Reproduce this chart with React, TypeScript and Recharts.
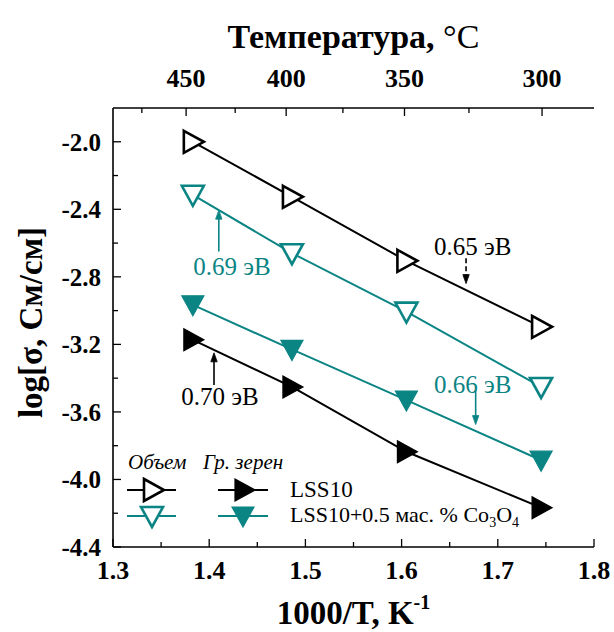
import React from "react";
import { LineChart, Line, XAxis, YAxis, ReferenceLine, ReferenceDot } from "recharts";

// 1000/T for 450, 400, 350, 300 °C
const invT = [1.383, 1.486, 1.605, 1.745];

// log(sigma), bulk and grain-boundary contributions
const lssBulk = [-2.0, -2.326, -2.705, -3.096];
const lssGrain = [-3.173, -3.452, -3.836, -4.167];
const coBulk = [-2.314, -2.66, -3.006, -3.452];
const coGrain = [-2.966, -3.23, -3.53, -3.886];

const xTicks = [1.3, 1.35, 1.4, 1.45, 1.5, 1.55, 1.6, 1.65, 1.7, 1.75, 1.8];
const yTicks = [-4.4, -4.2, -4.0, -3.8, -3.6, -3.4, -3.2, -3.0, -2.8, -2.6, -2.4, -2.2, -2.0];

// top temperature scale
const tempTickPos = [1.33, 1.376, 1.427, 1.48, 1.539, 1.603, 1.67, 1.746];
const tempLabels = ["", "450", "", "400", "", "350", "", "300"];

// activation energy notes: text baseline position, arrow tail and tip
const notes = [
  { text: "0.65 эВ", tx: 1.674, ty: -2.67, ax: 1.667, ay1: -2.69, ay2: -2.84, dashed: true, teal: false },
  { text: "0.69 эВ", tx: 1.4237, ty: -2.788, ax: 1.41, ay1: -2.65, ay2: -2.405, dashed: false, teal: true },
  { text: "0.70 эВ", tx: 1.4112, ty: -3.558, ax: 1.405, ay1: -3.44, ay2: -3.25, dashed: false, teal: false },
  { text: "0.66 эВ", tx: 1.674, ty: -3.487, ax: 1.677, ay1: -3.47, ay2: -3.675, dashed: false, teal: true },
];

const TEAL = "#0b8484";
const FONT = "'Liberation Serif', 'Times New Roman', serif";
const serif = { fontFamily: FONT };

const data = invT.map((x, i) => ({
  x,
  lssBulk: lssBulk[i],
  lssGrain: lssGrain[i],
  coBulk: coBulk[i],
  coGrain: coGrain[i],
}));

function RightTri({ cx, cy, color, filled }: any) {
  const pts = `${cx - 9},${cy - 11} ${cx + 11},${cy} ${cx - 9},${cy + 11}`;
  return <polygon points={pts} fill={filled ? color : "#fff"} stroke={color} strokeWidth={filled ? 1.2 : 2.6} strokeLinejoin="miter" />;
}

function DownTri({ cx, cy, color, filled }: any) {
  const pts = `${cx - 11},${cy - 9} ${cx + 11},${cy - 9} ${cx},${cy + 11}`;
  return <polygon points={pts} fill={filled ? color : "#fff"} stroke={color} strokeWidth={filled ? 1.2 : 2.6} strokeLinejoin="miter" />;
}

function YTick(props: any) {
  const { x, y, payload } = props;
  const v = payload.value;
  const major = Math.abs(Math.round(v * 10)) % 4 === 0;
  return (
    <g>
      <line x1={x} x2={x + (major ? 8 : 5)} y1={y} y2={y} stroke="#000" strokeWidth={1.3} />
      {major && (
        <text x={x - 12} y={y + 9} textAnchor="end" style={serif} fontWeight="bold" fontSize={25} fill="#000">
          {v.toFixed(1)}
        </text>
      )}
    </g>
  );
}

function XTick(props: any) {
  const { x, y, payload } = props;
  const v = payload.value;
  const major = Math.round(v * 100) % 10 === 0;
  return (
    <g>
      <line x1={x} x2={x} y1={y} y2={y - (major ? 8 : 5)} stroke="#000" strokeWidth={1.3} />
      {major && (
        <text x={x} y={y + 32} textAnchor="middle" style={serif} fontWeight="bold" fontSize={26} fill="#000">
          {v.toFixed(1)}
        </text>
      )}
    </g>
  );
}

function TopTick(props: any) {
  const { x, y, index } = props;
  const label = tempLabels[index];
  return (
    <g>
      <line x1={x} x2={x} y1={y} y2={y + (label ? 8 : 5)} stroke="#000" strokeWidth={1.3} />
      {label && (
        <text x={x} y={y - 21} textAnchor="middle" style={serif} fontWeight="bold" fontSize={26} fill="#000">
          {label}
        </text>
      )}
    </g>
  );
}

function Arrow(props: any) {
  const { x1, y1, x2, y2, stroke, dashed } = props;
  const dir = y2 > y1 ? 1 : -1;
  const head = `${x2 - 3.2},${y2 - dir * 9} ${x2 + 3.2},${y2 - dir * 9} ${x2},${y2}`;
  return (
    <g>
      <line x1={x1} y1={y1} x2={x2} y2={y2 - dir * 6} stroke={stroke} strokeWidth={1.6} strokeDasharray={dashed ? "5 3" : undefined} />
      <polygon points={head} fill={stroke} stroke={stroke} strokeWidth={0.8} />
    </g>
  );
}

function Legend() {
  const t = { style: serif, fill: "#000" };
  return (
    <svg width={420} height={80} style={{ position: "absolute", left: 120, top: 450 }}>
      <text x={8} y={19} {...t} fontStyle="italic" fontSize={21}>Объем</text>
      <text x={83} y={19} {...t} fontStyle="italic" fontSize={21}>Гр. зерен</text>
      <line x1={7} x2={56} y1={40} y2={40} stroke="#000" strokeWidth={2} />
      <RightTri cx={33} cy={40} color="#000" filled={false} />
      <line x1={98} x2={148} y1={40} y2={40} stroke="#000" strokeWidth={2} />
      <RightTri cx={124} cy={40} color="#000" filled />
      <text x={170} y={47} {...t} fontSize={23}>LSS10</text>
      <line x1={7} x2={56} y1={66} y2={66} stroke={TEAL} strokeWidth={2} />
      <DownTri cx={32} cy={66} color={TEAL} filled={false} />
      <line x1={98} x2={148} y1={66} y2={66} stroke={TEAL} strokeWidth={2} />
      <DownTri cx={123} cy={66} color={TEAL} filled />
      <text x={170} y={72} {...t} fontSize={22}>
        LSS10+0.5 мас. % Co<tspan fontSize={14} dy={5}>3</tspan><tspan dy={-5}>O</tspan><tspan fontSize={14} dy={5}>4</tspan>
      </text>
    </svg>
  );
}

export default function App() {
  const series = [
    { key: "lssBulk", color: "#000", filled: false, Shape: RightTri },
    { key: "coBulk", color: TEAL, filled: false, Shape: DownTri },
    { key: "coGrain", color: TEAL, filled: true, Shape: DownTri },
    { key: "lssGrain", color: "#000", filled: true, Shape: RightTri },
  ];
  return (
    <div style={{ position: "absolute", left: 0, top: 0, width: 614, height: 632, background: "#fff" }}>
      <LineChart width={614} height={632} data={data} margin={{ top: 68, right: 20, bottom: 45, left: 0 }}>
        <XAxis
          dataKey="x"
          type="number"
          domain={[1.3, 1.8]}
          allowDataOverflow
          ticks={xTicks}
          tick={<XTick />}
          tickSize={0}
          tickMargin={0}
          height={40}
          axisLine={{ stroke: "#000", strokeWidth: 1.6 }}
          interval={0}
          label={{
            content: ({ viewBox }: any) => (
              <text x={viewBox.x + viewBox.width / 2} y={624} textAnchor="middle" style={serif} fontWeight="bold" fontSize={33} fill="#000">
                1000/T, K<tspan fontSize={20} dy={-15}>-1</tspan>
              </text>
            ),
          }}
        />
        <XAxis
          xAxisId="top"
          orientation="top"
          dataKey="x"
          type="number"
          domain={[1.3, 1.8]}
          allowDataOverflow
          ticks={tempTickPos}
          tick={<TopTick />}
          tickSize={0}
          tickMargin={0}
          height={40}
          axisLine={{ stroke: "#000", strokeWidth: 1.6 }}
          interval={0}
          label={{
            content: ({ viewBox }: any) => (
              <text x={viewBox.x + viewBox.width / 2} y={48} textAnchor="middle" style={serif} fontWeight="bold" fontSize={34} fill="#000">
                Температура, <tspan fontWeight="normal">°C</tspan>
              </text>
            ),
          }}
        />
        <YAxis
          type="number"
          domain={[-4.4, -1.8]}
          allowDataOverflow
          ticks={yTicks}
          tick={<YTick />}
          tickSize={0}
          tickMargin={0}
          width={113}
          axisLine={{ stroke: "#000", strokeWidth: 1.6 }}
          interval={0}
          label={{
            content: ({ viewBox }: any) => {
              const cy = viewBox.y + viewBox.height / 2 - 5;
              return (
                <text x={42} y={cy} transform={`rotate(-90 42 ${cy})`} textAnchor="middle" style={serif} fontWeight="bold" fontSize={33} fill="#000">
                  log[σ, См/см]
                </text>
              );
            },
          }}
        />
        <YAxis yAxisId="r" orientation="right" type="number" domain={[-4.4, -1.8]} allowDataOverflow width={0} tick={false} tickLine={false} axisLine={{ stroke: "#000", strokeWidth: 1.6 }} />
        {series.map((s) => (
          <Line
            key={s.key}
            dataKey={s.key}
            type="linear"
            stroke={s.color}
            strokeWidth={2}
            isAnimationActive={false}
            dot={(p: any) => <s.Shape key={`${s.key}-${p.index}`} cx={p.cx} cy={p.cy} color={s.color} filled={s.filled} />}
            activeDot={false}
          />
        ))}
        {notes.map((n) => (
          <ReferenceLine
            key={`a-${n.text}`}
            segment={[{ x: n.ax, y: n.ay1 }, { x: n.ax, y: n.ay2 }]}
            stroke={n.teal ? TEAL : "#000"}
            shape={(p: any) => <Arrow {...p} stroke={n.teal ? TEAL : "#000"} dashed={n.dashed} />}
          />
        ))}
        {notes.map((n) => (
          <ReferenceDot
            key={`t-${n.text}`}
            x={n.tx}
            y={n.ty}
            r={1}
            shape={(p: any) => (
              <text x={p.cx} y={p.cy} textAnchor="middle" style={serif} fontSize={25} fill={n.teal ? TEAL : "#000"}>
                {n.text}
              </text>
            )}
          />
        ))}
      </LineChart>
      <Legend />
    </div>
  );
}
